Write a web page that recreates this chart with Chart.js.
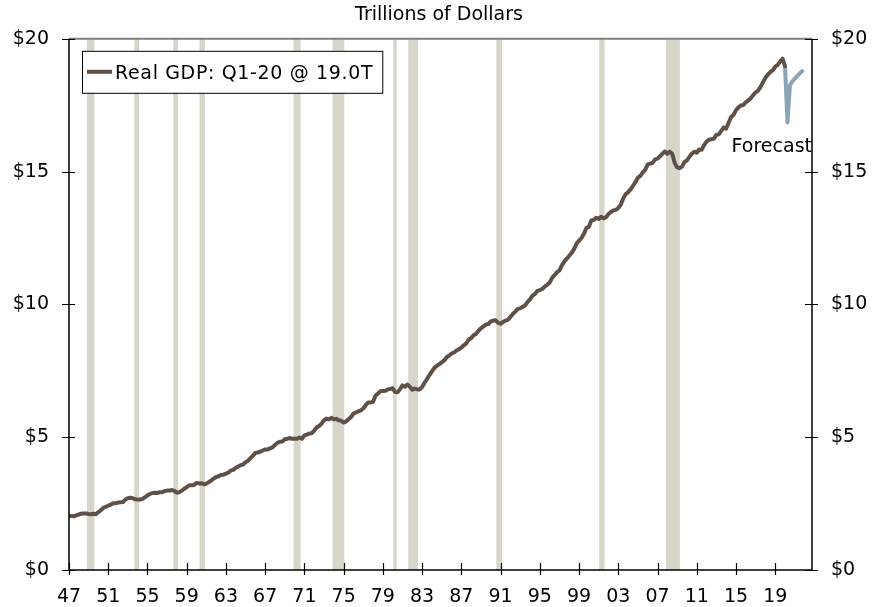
<!DOCTYPE html>
<html><head><meta charset="utf-8">
<script src="https://cdn.jsdelivr.net/npm/chart.js@4/dist/chart.umd.min.js"></script>
<style>html,body{margin:0;padding:0;background:#fff}#wrap{width:878px;height:607px;position:relative}</style>
</head><body><div id="wrap"><canvas id="c" width="878" height="607"></canvas></div>
<script>
// ---- data ----
const titleText = 'Trillions of Dollars';
const legendText = 'Real GDP: Q1-20 @ 19.0T';
const forecastText = 'Forecast';
const gdpFirstQuarter = 1947; // 1947 Q1, quarterly values follow
const gdp = [
 2.03,2.03,2.02,2.06, 2.09,2.12,2.13,2.13, 2.11,2.10,2.12,2.10, 2.18,2.25,2.34,2.38,
 2.42,2.46,2.51,2.51, 2.54,2.55,2.56,2.65, 2.70,2.72,2.70,2.66, 2.65,2.65,2.68,2.74,
 2.81,2.86,2.90,2.91, 2.90,2.93,2.93,2.97, 2.99,2.99,3.01,2.98, 2.91,2.93,2.99,3.06,
 3.12,3.19,3.19,3.20, 3.28,3.26,3.27,3.23, 3.25,3.31,3.37,3.44, 3.50,3.53,3.58,3.59,
 3.63,3.67,3.75,3.77, 3.85,3.89,3.95,3.97, 4.06,4.11,4.21,4.30, 4.41,4.42,4.46,4.50,
 4.54,4.54,4.58,4.62, 4.71,4.79,4.83,4.84, 4.92,4.94,4.97,4.94, 4.94,4.94,4.99,4.94,
 5.07,5.10,5.14,5.15, 5.25,5.37,5.42,5.51, 5.64,5.70,5.67,5.73, 5.68,5.69,5.64,5.62,
 5.55,5.59,5.68,5.76, 5.89,5.93,5.97,6.01, 6.08,6.20,6.31,6.31, 6.33,6.57,6.64,6.73,
 6.74,6.75,6.80,6.82, 6.84,6.70,6.69,6.81, 6.95,6.90,6.98,6.90, 6.79,6.83,6.80,6.80,
 6.89,7.05,7.19,7.34, 7.48,7.61,7.69,7.75, 7.82,7.89,8.01,8.07, 8.15,8.19,8.26,8.31,
 8.37,8.46,8.53,8.68, 8.73,8.84,8.89,9.01, 9.10,9.17,9.24,9.26, 9.36,9.39,9.40,9.31,
 9.27,9.34,9.39,9.42, 9.53,9.64,9.73,9.83, 9.85,9.91,9.96,10.09, 10.19,10.33,10.39,10.51,
 10.54,10.58,10.67,10.74, 10.82,11.00,11.10,11.21, 11.28,11.47,11.62,11.72, 11.83,11.94,12.09,12.29,
 12.40,12.50,12.66,12.88, 12.92,13.16,13.18,13.26, 13.22,13.30,13.24,13.28, 13.40,13.48,13.54,13.56,
 13.63,13.75,13.99,14.15, 14.22,14.33,14.46,14.61, 14.77,14.84,14.97,15.07, 15.27,15.30,15.33,15.46,
 15.49,15.58,15.67,15.76, 15.67,15.75,15.67,15.33, 15.16,15.13,15.19,15.36, 15.42,15.56,15.67,15.75,
 15.71,15.83,15.82,16.00, 16.13,16.20,16.22,16.24, 16.38,16.40,16.53,16.66, 16.62,16.84,17.05,17.14,
 17.31,17.42,17.49,17.51, 17.61,17.67,17.76,17.88, 17.98,18.05,18.19,18.36, 18.53,18.65,18.75,18.81,
 18.95,19.02,19.14,19.25, 18.97
];
const forecastFirstQuarter = 2020; // 2020 Q1
const forecast = [18.97, 16.85, 18.25, 18.40, 18.50, 18.60, 18.70, 18.78];
const xTickYears = [1947,1951,1955,1959,1963,1967,1971,1975,1979,1983,1987,1991,1995,1999,2003,2007,2011,2015,2019];
const xTickLabels = ['47','51','55','59','63','67','71','75','79','83','87','91','95','99','03','07','11','15','19'];
const yTickValues = [0,5,10,15,20];
const yTickLabels = ['$0','$5','$10','$15','$20'];
const recessionStart = [1948.83,1953.66,1957.63,1960.31,1969.90,1973.87,1980.06,1981.59,1990.56,2001.06,2007.86];
const recessionEnd   = [1949.58,1954.13,1958.11,1960.86,1970.61,1975.06,1980.40,1982.58,1991.14,2001.60,2009.28];

// ---- styles ----
const FONT = 'DejaVu Sans';
const FS = 19;
const GDP_COLOR = '#5e5148';
const FC_COLOR = '#8aa3b5';
const BAND_COLOR = '#d8d5c9';

const gdpPoints = gdp.map((v,i)=>({x: gdpFirstQuarter + i/4, y: v}));
const fcPoints = forecast.map((v,i)=>({x: forecastFirstQuarter + i/4, y: v}));

const bandsPlugin = {
  id:'bands',
  beforeDatasetsDraw(chart){
    const {ctx, chartArea:a, scales:{x}} = chart;
    ctx.save();
    ctx.fillStyle = BAND_COLOR;
    recessionStart.forEach((s,i)=>{
      const x0 = x.getPixelForValue(s), x1 = x.getPixelForValue(recessionEnd[i]);
      ctx.fillRect(x0, a.top, x1-x0, a.bottom-a.top);
    });
    ctx.restore();
  }
};

const framePlugin = {
  id:'frame',
  afterDatasetsDraw(chart){
    const {ctx, chartArea:a, scales:{x,y}} = chart;
    ctx.save();
    // top line
    ctx.strokeStyle = '#7f7f7f'; ctx.lineWidth = 2;
    ctx.beginPath(); ctx.moveTo(a.left, a.top); ctx.lineTo(a.right, a.top); ctx.stroke();
    ctx.strokeStyle = '#000'; ctx.lineWidth = 1.5;
    ctx.beginPath();
    ctx.moveTo(a.left, a.top); ctx.lineTo(a.left, a.bottom); ctx.lineTo(a.right, a.bottom); ctx.lineTo(a.right, a.top);
    ctx.stroke();
    ctx.beginPath();
    xTickYears.forEach(v=>{ const p = Math.round(x.getPixelForValue(v))+0.5; ctx.moveTo(p, a.bottom-7); ctx.lineTo(p, a.bottom+5); });
    yTickValues.forEach(v=>{ const p = Math.round(y.getPixelForValue(v))+0.5;
      ctx.moveTo(a.left-7, p); ctx.lineTo(a.left+6, p);
      ctx.moveTo(a.right-7, p); ctx.lineTo(a.right+6, p); });
    ctx.lineWidth = 1.2; ctx.stroke();
    // legend box
    ctx.font = FS + 'px "' + FONT + '"';
    ctx.letterSpacing = '0.65px';
    const tw = ctx.measureText(legendText).width;
    const bx = a.left + 13, by = a.top + 12, bh = 42, bw = 33 + tw + 9;
    ctx.fillStyle = '#fff'; ctx.fillRect(bx, by, bw, bh);
    ctx.strokeStyle = '#000'; ctx.lineWidth = 1; ctx.strokeRect(bx+0.5, by+0.5, bw, bh);
    ctx.strokeStyle = GDP_COLOR; ctx.lineWidth = 4;
    ctx.beginPath(); ctx.moveTo(bx+5, by+21); ctx.lineTo(bx+30, by+21); ctx.stroke();
    ctx.fillStyle = '#000'; ctx.textBaseline = 'alphabetic'; ctx.textAlign = 'left';
    ctx.fillText(legendText, bx+33, by+28);
    ctx.letterSpacing = '0px';
    // forecast label
    ctx.textAlign = 'right';
    ctx.fillText(forecastText, a.right, y.getPixelForValue(15.72));
    ctx.restore();
  }
};

const tickFont = {family: FONT, size: FS};
new Chart(document.getElementById('c'), {
  type:'line',
  data:{datasets:[
    {label: legendText, data: gdpPoints, borderColor: GDP_COLOR, borderWidth: 4, pointRadius: 0, tension: 0, borderJoinStyle:'round', borderCapStyle:'round'},
    {label: forecastText, data: fcPoints, borderColor: FC_COLOR, borderWidth: 4, pointRadius: 0, tension: 0, borderJoinStyle:'round', borderCapStyle:'round'}
  ]},
  options:{
    responsive:false, animation:false, devicePixelRatio:1,
    layout:{padding:0},
    plugins:{
      legend:{display:false}, tooltip:{enabled:false},
      title:{display:true, text:titleText, color:'#000', font:{family:FONT, size:FS, weight:'normal'}, padding:{top:4, bottom:12}}
    },
    scales:{
      x:{type:'linear', min:1947, max:2022.75,
         grid:{display:false, drawTicks:false, tickLength:0}, border:{display:false},
         afterBuildTicks:s=>{ s.ticks = xTickYears.map(v=>({value:v})); },
         ticks:{autoSkip:false, maxRotation:0, padding:16, color:'#000', font:tickFont, callback:(v,i)=>xTickLabels[i]},
         afterFit:s=>{ s.height = 37; }},
      y:{position:'left', min:0, max:20,
         grid:{display:false, drawTicks:false, tickLength:0}, border:{display:false},
         afterBuildTicks:s=>{ s.ticks = yTickValues.map(v=>({value:v})); },
         ticks:{padding:20, color:'#000', font:tickFont, callback:(v,i)=>yTickLabels[i]},
         afterFit:s=>{ s.width = 69; }},
      y2:{position:'right', min:0, max:20,
         grid:{display:false, drawTicks:false, tickLength:0}, border:{display:false},
         afterBuildTicks:s=>{ s.ticks = yTickValues.map(v=>({value:v})); },
         ticks:{padding:19, color:'#000', font:tickFont, callback:(v,i)=>yTickLabels[i]},
         afterFit:s=>{ s.width = 66; }}
    }
  },
  plugins:[bandsPlugin, framePlugin]
});
</script></body></html>
